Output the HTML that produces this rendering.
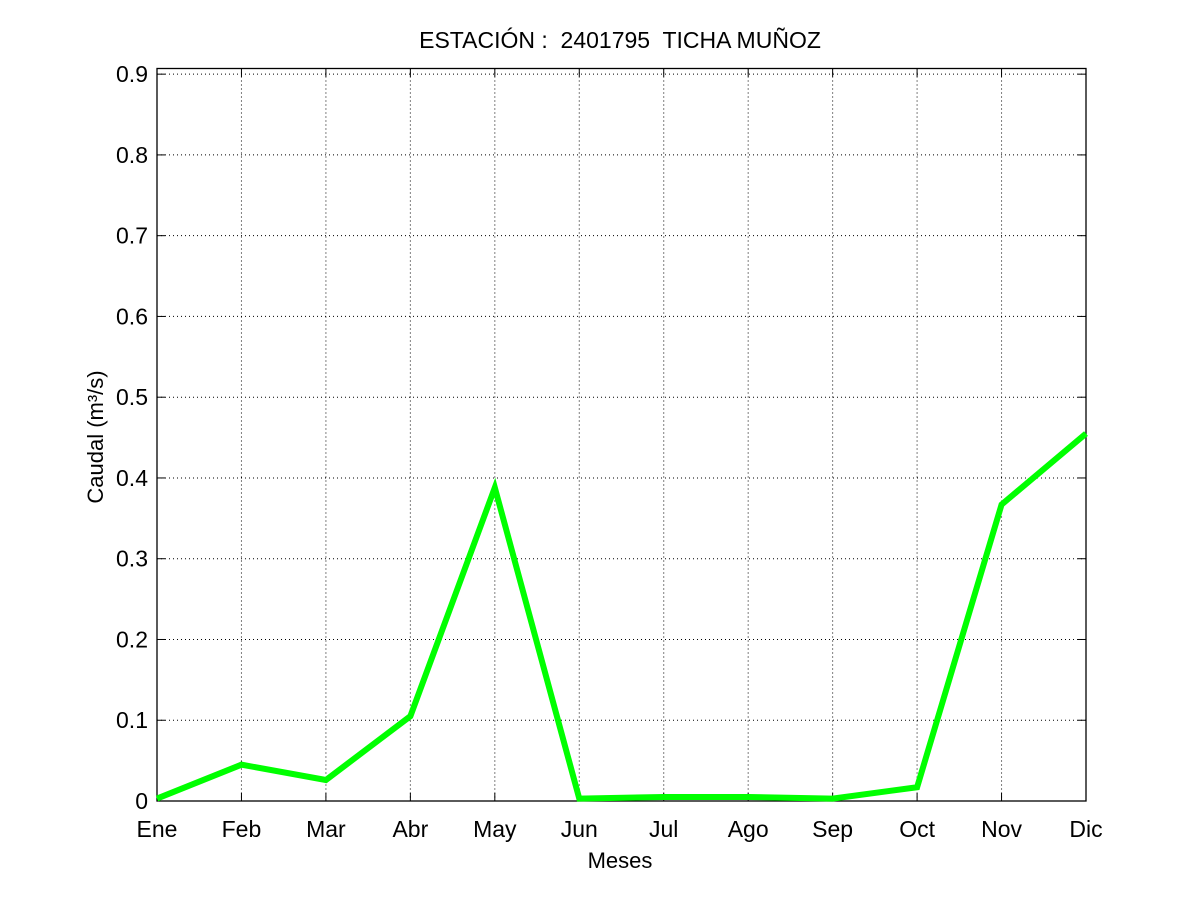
<!DOCTYPE html>
<html><head><meta charset="utf-8"><style>
body{margin:0;background:#fff}
svg text{font-family:"Liberation Sans",sans-serif;fill:#000}
</style></head><body>
<svg id="chart" width="1200" height="900">
<rect width="1200" height="900" fill="#fff"/>
<g id="grid"></g><g id="axes"></g><g id="series"></g>
<text x="620" y="48" font-size="23" text-anchor="middle" style="white-space:pre" xml:space="preserve">ESTACIÓN :  2401795  TICHA MUÑOZ</text>
<text x="620" y="868" font-size="22" text-anchor="middle">Meses</text>
<text transform="translate(103,437) rotate(-90)" font-size="22" text-anchor="middle">Caudal (m³/s)</text>
</svg>
<script>
const months=["Ene","Feb","Mar","Abr","May","Jun","Jul","Ago","Sep","Oct","Nov","Dic"];
const caudal=[0.003,0.045,0.026,0.105,0.388,0.003,0.005,0.005,0.003,0.017,0.367,0.455];
const yTicks=[0,0.1,0.2,0.3,0.4,0.5,0.6,0.7,0.8,0.9];
const yTickLabels=["0","0.1","0.2","0.3","0.4","0.5","0.6","0.7","0.8","0.9"];
const L=157,R=1086,T=68.5,B=801,YMAX=0.907;
const xs=i=>L+i*(R-L)/(months.length-1);
const ys=v=>B-v/YMAX*(B-T);
const NS="http://www.w3.org/2000/svg";
function mk(p,tag,a){const e=document.createElementNS(NS,tag);for(const k in a)e.setAttribute(k,a[k]);p.appendChild(e);return e;}
const g=document.getElementById('grid'),ax=document.getElementById('axes'),s=document.getElementById('series');
months.forEach((m,i)=>{const x=xs(i);
 if(i>0&&i<months.length-1){const l=mk(g,'line',{x1:x,x2:x,y1:T,y2:B,stroke:'#000','stroke-width':1,'stroke-dasharray':'1,3'});
 
 }
 mk(ax,'line',{x1:x,x2:x,y1:B,y2:B-8,stroke:'#000'});mk(ax,'line',{x1:x,x2:x,y1:T,y2:T+8,stroke:'#000'});
 const t=mk(ax,'text',{x:x,y:837,'font-size':23,'text-anchor':'middle'});t.textContent=m;
 
 });
yTicks.forEach((v,i)=>{const y=ys(v);
 if(i>0){const l=mk(g,'line',{x1:L,x2:R,y1:y,y2:y,stroke:'#000','stroke-width':1,'stroke-dasharray':'1,3'});
 
 }
 mk(ax,'line',{x1:L,x2:L+8,y1:y,y2:y,stroke:'#000'});mk(ax,'line',{x1:R,x2:R-8,y1:y,y2:y,stroke:'#000'});
 const t=mk(ax,'text',{x:148,y:y+8,'font-size':23,'text-anchor':'end'});t.textContent=yTickLabels[i];
 
 });
const box=mk(ax,'rect',{x:L,y:T,width:R-L,height:B-T,fill:'none',stroke:'#000','stroke-width':1.3});


const pl=mk(s,'polyline',{points:caudal.map((v,i)=>xs(i)+','+ys(v)).join(' '),fill:'none',stroke:'#00ff00','stroke-width':6,'stroke-linejoin':'miter'});


</script>
</body></html>
